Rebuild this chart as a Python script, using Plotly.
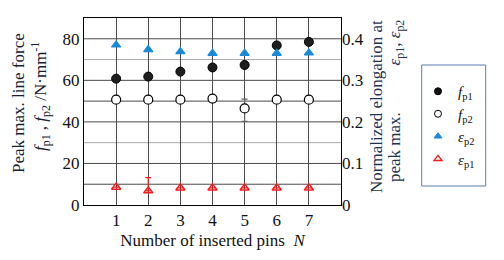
import plotly.graph_objects as go

N = [1, 2, 3, 4, 5, 6, 7]
x_ticks = [1, 2, 3, 4, 5, 6, 7]
fp1 = [60.8, 61.8, 64.2, 66.2, 67.4, 76.8, 78.5]
fp2 = [50.7, 50.7, 50.7, 51.2, 46.5, 50.7, 50.7]
fp2_err_plus = [0, 0, 0, 0, 4.5, 0, 0]
fp2_err_minus = [0, 0, 0, 0, 6.3, 0, 0]
ep2 = [0.385, 0.374, 0.369, 0.365, 0.365, 0.365, 0.366]
ep1 = [0.043, 0.034, 0.041, 0.041, 0.041, 0.041, 0.041]
ep1_err_plus = [0, 0.032, 0, 0, 0, 0, 0]
ep1_err_minus = [0, 0, 0, 0, 0, 0, 0]

FONT = "Liberation Serif, Times New Roman, serif"
BLUE = "#1a8ad8"
RED = "#ff1a1a"

# page body has an 8px margin; figure is sized to fit the visible 504x260 window
W, H = 496, 252
L, R, T, B = 76, 163, 10, 55
PW = W - L - R
PH = H - T - B


def px_x(page_x):
    return (page_x - 8 - L) / PW


def px_y(page_y):
    return (H - B - (page_y - 8)) / PH


fig = go.Figure()
fig.add_trace(go.Scatter(x=N, y=fp1, mode="markers", showlegend=False,
                         marker=dict(symbol="circle", size=9, color="#1e1e1e",
                                     line=dict(color="#000", width=1))))
fig.add_trace(go.Scatter(x=N, y=fp2, mode="markers", showlegend=False,
                         error_y=dict(type="data", array=fp2_err_plus, arrayminus=fp2_err_minus,
                                      color="#666", thickness=1.2, width=3),
                         marker=dict(symbol="circle", size=9, color="white",
                                     line=dict(color="#000", width=1.2))))
fig.add_trace(go.Scatter(x=N, y=ep2, mode="markers", yaxis="y2", showlegend=False,
                         marker=dict(symbol="triangle-up", size=8, color=BLUE,
                                     line=dict(color=BLUE, width=1.2))))
fig.add_trace(go.Scatter(x=N, y=ep1, mode="markers", yaxis="y2", showlegend=False,
                         error_y=dict(type="data", array=ep1_err_plus, arrayminus=ep1_err_minus,
                                      color=RED, thickness=1.2, width=3),
                         marker=dict(symbol="triangle-up-open", size=8, color=RED,
                                     line=dict(color=RED, width=1.5))))

# legend entries (smaller symbols, as in the reference legend)
legend_items = [
    ("<i>f</i><sub>p1</sub>", dict(symbol="circle", size=7, color="#111", line=dict(color="#000", width=1))),
    ("<i>f</i><sub>p2</sub>", dict(symbol="circle", size=7, color="white", line=dict(color="#000", width=1))),
    ("<i>ε</i><sub>p2</sub>", dict(symbol="triangle-up", size=7, color=BLUE, line=dict(color=BLUE, width=1))),
    ("<i>ε</i><sub>p1</sub>", dict(symbol="triangle-up-open", size=7, color=RED, line=dict(color=RED, width=1.3))),
]
for name, mk in legend_items:
    fig.add_trace(go.Scatter(x=[None], y=[None], mode="markers", name=name, marker=mk))

# grid lines: dark at most decades, lighter at 30 and 70
for yv in [10, 20, 40, 50, 60, 80]:
    fig.add_shape(type="line", xref="paper", x0=0, x1=1, yref="y", y0=yv, y1=yv,
                  line=dict(color="#4a4a4a", width=1), layer="below")
for yv in [30, 70]:
    fig.add_shape(type="line", xref="paper", x0=0, x1=1, yref="y", y0=yv, y1=yv,
                  line=dict(color="#a8a8a8", width=1), layer="below")

fig.update_layout(
    width=W, height=H,
    margin=dict(l=L, r=R, t=T, b=B, autoexpand=False),
    paper_bgcolor="white", plot_bgcolor="white",
    font=dict(family=FONT, size=17, color="#111"),
    showlegend=True,
    legend=dict(x=px_x(418), y=px_y(75), xanchor="left", yanchor="top",
                bgcolor="rgba(0,0,0,0)", borderwidth=0,
                font=dict(family=FONT, size=15), itemwidth=30, tracegroupgap=0),
    xaxis=dict(range=[0, 8], tickvals=x_ticks, showgrid=True, gridcolor="#4a4a4a", gridwidth=1,
               showline=True, linecolor="#000", linewidth=1, mirror=True, ticks="",
               zeroline=False,
               title=dict(text="Number of inserted pins  <i>N</i>", standoff=4,
                          font=dict(family=FONT, size=17))),
    yaxis=dict(range=[0, 90], tickvals=[0, 20, 40, 60, 80], showgrid=False,
               showline=True, linecolor="#000", linewidth=1, mirror=True, ticks="",
               zeroline=False),
    yaxis2=dict(range=[0, 0.45], tickvals=[0, 0.1, 0.2, 0.3, 0.4],
                ticktext=["0", "0.1", "0.2", "0.3", "0.4"],
                overlaying="y", side="right", showgrid=False, zeroline=False,
                showline=False, ticks=""),
)

# legend box
fig.add_shape(type="rect", xref="paper", yref="paper",
              x0=px_x(421.7), x1=px_x(485.7), y0=px_y(186), y1=px_y(65),
              line=dict(color="#5a7fb0", width=1), fillcolor="rgba(0,0,0,0)")

# axis titles
TITLE_C = "#1a2030"
common = dict(xref="paper", yref="paper", textangle=-90, showarrow=False,
              xanchor="center", yanchor="middle")
fig.add_annotation(text="Peak max. line force", x=px_x(18), y=px_y(103),
                   font=dict(family=FONT, size=17, color=TITLE_C), **common)
fig.add_annotation(text="<i>f</i><sub>p1</sub> , <i>f</i><sub>p2</sub> /N·mm<sup>-1</sup>",
                   x=px_x(40), y=px_y(97),
                   font=dict(family=FONT, size=17, color=TITLE_C), **common)
fig.add_annotation(text="Normalized elongation at", x=px_x(376), y=px_y(107),
                   font=dict(family=FONT, size=17, color="#1f3350"), **common)
fig.add_annotation(text="peak max.\u00a0\u00a0\u00a0\u00a0\u00a0\u00a0\u00a0\u00a0\u00a0\u00a0\u00a0<i>ε</i><sub>p1</sub>, <i>ε</i><sub>p2</sub>",
                   x=px_x(396), y=px_y(101),
                   font=dict(family=FONT, size=17, color="#1f3350"), **common)

fig.write_html("out.html")
